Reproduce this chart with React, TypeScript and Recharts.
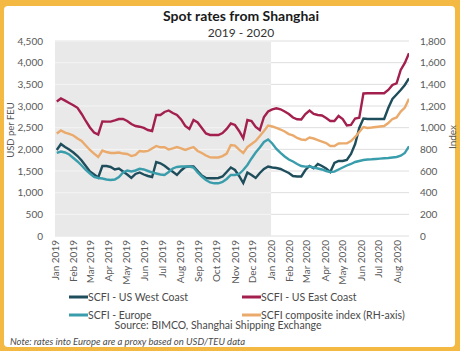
import React from "react";
import {
  ComposedChart,
  Line,
  XAxis,
  YAxis,
  CartesianGrid,
  ReferenceArea,
  ReferenceLine,
} from "recharts";

const FONT = "Lato, 'Open Sans', sans-serif";

// weekly SCFI observations, first one on Fri 4 Jan 2019 (day 3 after 1 Jan 2019)
const firstWeekDay = 3;
const lastDay = 598;

const usWestCoast = [
  1985, 2123, 2054, 1996, 1927, 1846, 1743, 1616, 1489, 1419,
  1350, 1616, 1616, 1593, 1535, 1558, 1489, 1419, 1339, 1431,
  1466, 1419, 1385, 1362, 1708, 1678, 1620, 1546, 1484, 1408,
  1512, 1593, 1604, 1604, 1500, 1396, 1339, 1332, 1332, 1339,
  1373, 1477, 1581, 1523, 1385, 1223, 1466, 1408, 1339, 1454,
  1546, 1604, 1581, 1569, 1546, 1500, 1454, 1385, 1373, 1373,
  1523, 1616, 1563, 1662, 1616, 1558, 1477, 1685, 1731, 1731,
  1754, 1893, 2123, 2493, 2712, 2700, 2700, 2700, 2700, 2700,
  2954, 3162, 3266, 3370, 3485, 3640,
];

const usEastCoast = [
  3104, 3173, 3123, 3070, 3019, 2959, 2816, 2654, 2504, 2389,
  2343, 2643, 2640, 2640, 2666, 2700, 2700, 2654, 2585, 2539,
  2522, 2493, 2446, 2423, 2792, 2792, 2862, 2897, 2839, 2792,
  2689, 2539, 2470, 2677, 2620, 2493, 2366, 2331, 2331, 2331,
  2377, 2470, 2596, 2562, 2423, 2255, 2677, 2654, 2516, 2446,
  2747, 2873, 2920, 2947, 2924, 2873, 2816, 2735, 2693, 2689,
  2816, 2897, 2816, 2792, 2781, 2723, 2654, 2654, 2770, 2700,
  2550, 2562, 2712, 2730, 3289, 3293, 3293, 3293, 3293, 3293,
  3370, 3485, 3524, 3831, 3993, 4217,
];

const europe = [
  1916, 1950, 1927, 1881, 1800, 1719, 1627, 1523, 1443, 1362,
  1339, 1327, 1304, 1292, 1304, 1362, 1466, 1512, 1489, 1512,
  1551, 1535, 1500, 1466, 1443, 1419, 1408, 1477, 1558, 1593,
  1604, 1604, 1604, 1581, 1466, 1373, 1292, 1235, 1216, 1216,
  1246, 1316, 1408, 1408, 1431, 1523, 1639, 1789, 1927, 2043,
  2170, 2227, 2135, 2008, 1916, 1835, 1766, 1719, 1662, 1616,
  1600, 1604, 1581, 1558, 1535, 1500, 1477, 1485, 1535, 1581,
  1627, 1662, 1708, 1731, 1754, 1766, 1770, 1777, 1785, 1793,
  1800, 1812, 1823, 1853, 1916, 2070,
];

const composite = [
  946, 974, 955, 943, 928, 900, 877, 835, 794, 761,
  729, 789, 775, 766, 766, 771, 761, 757, 738, 748,
  785, 780, 785, 808, 831, 819, 819, 798, 808, 821,
  808, 794, 808, 821, 785, 766, 743, 726, 725, 725,
  738, 761, 840, 835, 798, 766, 821, 849, 877, 923,
  969, 1020, 1011, 997, 983, 965, 941, 928, 905, 891,
  886, 909, 900, 886, 872, 858, 831, 831, 854, 855,
  855, 877, 914, 960, 1006, 997, 1001, 1006, 1011, 1015,
  1043, 1080, 1094, 1149, 1186, 1267,
];

const monthLabels = [
  "Jan 2019", "Feb 2019", "Mar 2019", "Apr 2019", "May 2019", "Jun 2019",
  "Jul 2019", "Aug 2019", "Sep 2019", "Oct 2019", "Nov 2019", "Dec 2019",
  "Jan 2020", "Feb 2020", "Mar 2020", "Apr 2020", "May 2020", "Jun 2020",
  "Jul 2020", "Aug 2020",
];

const leftTicks = [0, 500, 1000, 1500, 2000, 2500, 3000, 3500, 4000, 4500];
const rightTicks = [0, 200, 400, 600, 800, 1000, 1200, 1400, 1600, 1800];
const shadedPeriod = [0, 365]; // year 2019

const COLORS = {
  west: "#1E4D5C",
  east: "#A3204E",
  europe: "#3A9DAC",
  composite: "#EAAA6C",
};

const legendItems = [
  { label: "SCFI - US West Coast", color: COLORS.west },
  { label: "SCFI - US East Coast", color: COLORS.east },
  { label: "SCFI - Europe", color: COLORS.europe },
  { label: "SCFI composite index (RH-axis)", color: COLORS.composite },
];

const DAY_MS = 86400000;
const monthTicks = monthLabels.map((_, i) =>
  Math.round((Date.UTC(2019, i, 1) - Date.UTC(2019, 0, 1)) / DAY_MS)
);

const data = usWestCoast.map((v, k) => ({
  day: firstWeekDay + 7 * k,
  west: v,
  east: usEastCoast[k],
  europe: europe[k],
  composite: composite[k],
}));

const fmt = (v: number) => v.toLocaleString("en-US");

const MonthTick = (props: any) => {
  const { x, y, payload } = props;
  const idx = monthTicks.indexOf(payload.value);
  return (
    <text
      x={x}
      y={y}
      transform={`rotate(-90, ${x}, ${y})`}
      textAnchor="end"
      dy="0.36em"
      fontSize={10}
      fontFamily={FONT}
      fill="#595959"
    >
      {monthLabels[idx]}
    </text>
  );
};

export default function App() {
  const legendPos = [
    { x: 69, y: 297 },
    { x: 242, y: 297 },
    { x: 69, y: 315 },
    { x: 242, y: 315 },
  ];
  return (
    <div style={{ position: "absolute", left: 0, top: 0, width: 460, height: 351, fontFamily: FONT }}>
      <div style={{ position: "absolute", left: 0, top: 0, width: 460, height: 351, background: "#F4B942" }} />
      <div
        style={{
          position: "absolute",
          left: 4,
          top: 6,
          width: 451,
          height: 341,
          background: "#FFFFFF",
          borderRadius: 4,
        }}
      />
      <div style={{ position: "absolute", left: 0, top: 0 }}>
        <ComposedChart
          width={460}
          height={351}
          data={data}
          margin={{ top: 41, right: 0, bottom: 0, left: 0 }}
          style={{ fontFamily: FONT }}
        >
          <CartesianGrid vertical={false} stroke="#DEDEDE" strokeWidth={1} />
          <ReferenceArea
            x1={shadedPeriod[0]}
            x2={shadedPeriod[1]}
            y1={leftTicks[0]}
            y2={leftTicks[leftTicks.length - 1]}
            fill="#E9E9E9"
            fillOpacity={1}
            stroke="none"
            ifOverflow="visible"
          />
          {leftTicks.slice(1).map((t) => (
            <ReferenceLine
              key={t}
              segment={[
                { x: shadedPeriod[0], y: t },
                { x: shadedPeriod[1], y: t },
              ]}
              stroke="#F4F4F4"
              strokeWidth={1}
              ifOverflow="visible"
            />
          ))}
          <XAxis
            dataKey="day"
            type="number"
            domain={[0, lastDay]}
            ticks={monthTicks}
            interval={0}
            tick={<MonthTick />}
            tickLine={false}
            axisLine={false}
            tickSize={0}
            tickMargin={4}
            height={115}
            allowDataOverflow
          />
          <YAxis
            domain={[leftTicks[0], leftTicks[leftTicks.length - 1]]}
            ticks={leftTicks}
            tickFormatter={fmt}
            width={55}
            tickLine={false}
            axisLine={false}
            tickSize={0}
            tickMargin={12}
            tick={{ fontSize: 10, fill: "#595959", fontFamily: FONT }}
            interval={0}
          />
          <YAxis
            yAxisId="right"
            orientation="right"
            domain={[rightTicks[0], rightTicks[rightTicks.length - 1]]}
            ticks={rightTicks}
            tickFormatter={fmt}
            width={51}
            tickLine={false}
            axisLine={false}
            tickSize={0}
            tickMargin={11}
            tick={{ fontSize: 10, fill: "#595959", fontFamily: FONT, textAnchor: "start" }}
            interval={0}
          />
          <Line dataKey="west" stroke={COLORS.west} strokeWidth={2.4} dot={false} isAnimationActive={false} />
          <Line dataKey="east" stroke={COLORS.east} strokeWidth={2.4} dot={false} isAnimationActive={false} />
          <Line dataKey="europe" stroke={COLORS.europe} strokeWidth={2.4} dot={false} isAnimationActive={false} />
          <Line
            yAxisId="right"
            dataKey="composite"
            stroke={COLORS.composite}
            strokeWidth={2.4}
            dot={false}
            isAnimationActive={false}
          />
        </ComposedChart>
      </div>
      <svg
        width={460}
        height={351}
        style={{ position: "absolute", left: 0, top: 0, pointerEvents: "none" }}
        fontFamily={FONT}
      >
        <text x={241} y={21} textAnchor="middle" fontSize={14} fontWeight={700} fill="#1A1A1A">
          Spot rates from Shanghai
        </text>
        <text x={241} y={37} textAnchor="middle" fontSize={12} fill="#333333">
          2019 - 2020
        </text>
        <text
          x={11}
          y={130}
          transform="rotate(-90, 11, 130)"
          textAnchor="middle"
          dy="0.35em"
          fontSize={9.5}
          fill="#595959"
        >
          USD per FEU
        </text>
        <text
          x={452}
          y={137}
          transform="rotate(-90, 452, 137)"
          textAnchor="middle"
          dy="0.35em"
          fontSize={10}
          fill="#595959"
        >
          Index
        </text>
        {legendItems.map((it, i) => (
          <g key={it.label}>
            <line
              x1={legendPos[i].x}
              x2={legendPos[i].x + 19}
              y1={legendPos[i].y}
              y2={legendPos[i].y}
              stroke={it.color}
              strokeWidth={3}
            />
            <text x={legendPos[i].x + 19} y={legendPos[i].y + 4} fontSize={10.5} fill="#4A4A4A">
              {it.label}
            </text>
          </g>
        ))}
        <text x={218} y={329} textAnchor="middle" fontSize={10.5} fill="#4A4A4A">
          Source: BIMCO, Shanghai Shipping Exchange
        </text>
        <text x={10} y={345} fontSize={9.5} fontStyle="italic" fill="#4A4A4A">
          Note: rates into Europe are a proxy based on USD/TEU data
        </text>
      </svg>
    </div>
  );
}
